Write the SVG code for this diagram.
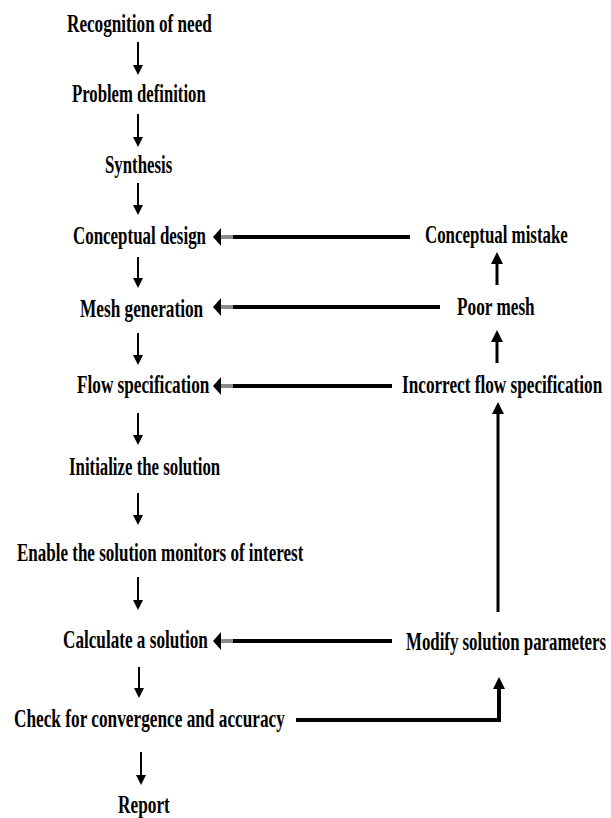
<svg xmlns="http://www.w3.org/2000/svg" width="611" height="818" viewBox="0 0 611 818">
<style>
text{font-family:"Liberation Serif","Times New Roman",serif;font-weight:bold;font-size:25px;fill:#000}
.v{stroke:#000;stroke-width:2;fill:none}
.u{stroke:#000;stroke-width:3;fill:none}
.h{stroke:#000;stroke-width:4;fill:none}
.g{stroke:#8a8a8a;stroke-width:4;fill:none}
</style>
<defs>
<marker id="down" markerUnits="userSpaceOnUse" viewBox="0 0 10 10" markerWidth="10" markerHeight="10" refX="0" refY="5" orient="auto"><path d="M0,0 L10,5 L0,10 z" fill="#000"/></marker>
<marker id="up" markerUnits="userSpaceOnUse" viewBox="0 0 12 12" markerWidth="12" markerHeight="12" refX="0" refY="6" orient="auto"><path d="M0,0 L12,6 L0,12 z" fill="#000"/></marker>
<marker id="left" markerUnits="userSpaceOnUse" viewBox="0 0 8 18" markerWidth="8" markerHeight="18" refX="0" refY="9" orient="auto"><path d="M0,0 L8,9 L0,18 z" fill="#000"/></marker>
</defs>
<g id="connectors">
<line class="v" x1="138" y1="42" x2="138" y2="65" marker-end="url(#down)"/>
<line class="v" x1="138" y1="114" x2="138" y2="137" marker-end="url(#down)"/>
<line class="v" x1="138" y1="183" x2="138" y2="205" marker-end="url(#down)"/>
<line class="v" x1="138" y1="257" x2="138" y2="278" marker-end="url(#down)"/>
<line class="v" x1="138" y1="333" x2="138" y2="355" marker-end="url(#down)"/>
<line class="v" x1="138" y1="413" x2="138" y2="435" marker-end="url(#down)"/>
<line class="v" x1="138" y1="493" x2="138" y2="515" marker-end="url(#down)"/>
<line class="v" x1="138" y1="577" x2="138" y2="600" marker-end="url(#down)"/>
<line class="v" x1="139" y1="667" x2="139" y2="688" marker-end="url(#down)"/>
<line class="v" x1="141" y1="752" x2="141" y2="775" marker-end="url(#down)"/>
<line class="u" x1="497" y1="285" x2="497" y2="264" marker-end="url(#up)"/>
<line class="u" x1="497" y1="363" x2="497" y2="342" marker-end="url(#up)"/>
<line class="u" x1="498" y1="612" x2="498" y2="414" marker-end="url(#up)"/>
<polyline class="h" points="296,720 499,720 499,689" stroke-linejoin="miter"/>
<line class="u" x1="499" y1="700" x2="499" y2="689" marker-end="url(#up)"/>
<line class="h" x1="410" y1="237" x2="233" y2="237"/>
<line class="g" x1="233" y1="237" x2="221" y2="237" marker-end="url(#left)"/>
<line class="h" x1="440" y1="307" x2="233" y2="307"/>
<line class="g" x1="233" y1="307" x2="221" y2="307" marker-end="url(#left)"/>
<line class="h" x1="392" y1="386" x2="233" y2="386"/>
<line class="g" x1="233" y1="386" x2="221" y2="386" marker-end="url(#left)"/>
<line class="h" x1="392" y1="641" x2="233" y2="641"/>
<line class="g" x1="233" y1="641" x2="221" y2="641" marker-end="url(#left)"/>
</g>
<g id="n1"><text transform="translate(67,32) scale(0.7,1)" textLength="207" lengthAdjust="spacingAndGlyphs">Recognition of need</text></g>
<g id="n2"><text transform="translate(72,102) scale(0.7,1)" textLength="191" lengthAdjust="spacingAndGlyphs">Problem definition</text></g>
<g id="n3"><text transform="translate(105,173) scale(0.7,1)" textLength="96" lengthAdjust="spacingAndGlyphs">Synthesis</text></g>
<g id="n4"><text transform="translate(73,244) scale(0.7,1)" textLength="190" lengthAdjust="spacingAndGlyphs">Conceptual design</text></g>
<g id="n5"><text transform="translate(80,317) scale(0.7,1)" textLength="176" lengthAdjust="spacingAndGlyphs">Mesh generation</text></g>
<g id="n6"><text transform="translate(77,393) scale(0.7,1)" textLength="189" lengthAdjust="spacingAndGlyphs">Flow specification</text></g>
<g id="n7"><text transform="translate(69,475) scale(0.7,1)" textLength="216" lengthAdjust="spacingAndGlyphs">Initialize the solution</text></g>
<g id="n8"><text transform="translate(17,561) scale(0.7,1)" textLength="409" lengthAdjust="spacingAndGlyphs">Enable the solution monitors of interest</text></g>
<g id="n9"><text transform="translate(63,648) scale(0.7,1)" textLength="207" lengthAdjust="spacingAndGlyphs">Calculate a solution</text></g>
<g id="n10"><text transform="translate(14,727) scale(0.7,1)" textLength="387" lengthAdjust="spacingAndGlyphs">Check for convergence and accuracy</text></g>
<g id="n11"><text transform="translate(118,813) scale(0.7,1)" textLength="74" lengthAdjust="spacingAndGlyphs">Report</text></g>
<g id="n12"><text transform="translate(425,243) scale(0.7,1)" textLength="204" lengthAdjust="spacingAndGlyphs">Conceptual mistake</text></g>
<g id="n13"><text transform="translate(457,315) scale(0.7,1)" textLength="111" lengthAdjust="spacingAndGlyphs">Poor mesh</text></g>
<g id="n14"><text transform="translate(402,393) scale(0.7,1)" textLength="286" lengthAdjust="spacingAndGlyphs">Incorrect flow specification</text></g>
<g id="n15"><text transform="translate(406,650) scale(0.66,1)" textLength="303" lengthAdjust="spacingAndGlyphs">Modify solution parameters</text></g>
</svg>
